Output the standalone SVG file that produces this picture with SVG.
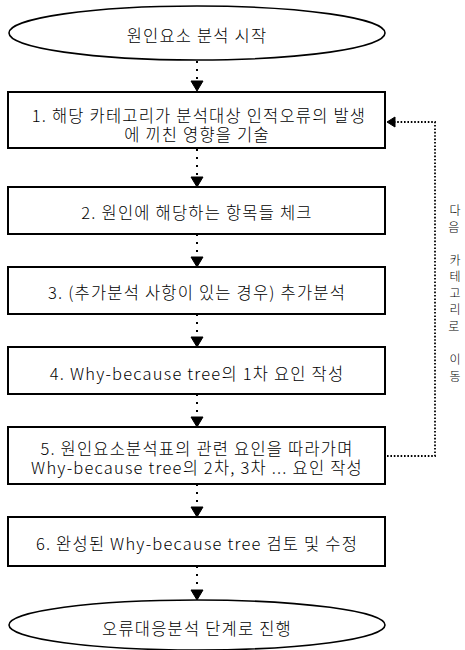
<svg xmlns="http://www.w3.org/2000/svg" width="465" height="650" viewBox="0 0 465 650">
<style>
  .box { fill: #fff; stroke: #000; stroke-width: 2; }
  .term { fill: #fff; stroke: #000; stroke-width: 1.6; }
  .lbl { font-family: "Noto Sans CJK KR", "Noto Sans", sans-serif; font-size: 16.5px; font-weight: 300; letter-spacing: 1.2px; fill: #000; text-anchor: middle; dominant-baseline: central; }
  .side { font-family: "Noto Sans CJK KR", "Noto Sans", sans-serif; font-size: 12px; font-weight: 300; fill: #000; text-anchor: middle; dominant-baseline: central; }
  .flow { fill: none; stroke: #000; stroke-width: 2; stroke-dasharray: 2 6; }
  .back { fill: none; stroke: #000; stroke-width: 1.8; stroke-dasharray: 1.6 1.8; }
  .head { fill: #000; stroke: #000; stroke-width: 1; }
</style>

<g id="start">
  <ellipse class="term" cx="197" cy="33" rx="188" ry="27"/>
  <text class="lbl" x="197" y="35">원인요소 분석 시작</text>
</g>

<g id="step1">
  <rect class="box" x="8" y="92" width="377" height="56"/>
  <text class="lbl"><tspan x="199" y="115">1. 해당 카테고리가 분석대상 인적오류의 발생</tspan><tspan x="197" y="134">에 끼친 영향을 기술</tspan></text>
</g>

<g id="step2">
  <rect class="box" x="8" y="187" width="377" height="47"/>
  <text class="lbl" x="197" y="212">2. 원인에 해당하는 항목들 체크</text>
</g>

<g id="step3">
  <rect class="box" x="8" y="267" width="377" height="47"/>
  <text class="lbl" x="197" y="292">3. (추가분석 사항이 있는 경우) 추가분석</text>
</g>

<g id="step4">
  <rect class="box" x="8" y="347" width="377" height="47"/>
  <text class="lbl" x="197" y="373">4. Why-because tree의 1차 요인 작성</text>
</g>

<g id="step5">
  <rect class="box" x="8" y="427" width="377" height="57"/>
  <text class="lbl"><tspan x="197" y="448">5. 원인요소분석표의 관련 요인을 따라가며</tspan><tspan x="197" y="467">Why-because tree의 2차, 3차 ... 요인 작성</tspan></text>
</g>

<g id="step6">
  <rect class="box" x="8" y="517" width="377" height="49"/>
  <text class="lbl" x="197" y="543">6. 완성된 Why-because tree 검토 및 수정</text>
</g>

<g id="end">
  <ellipse class="term" cx="197" cy="625" rx="188" ry="25"/>
  <text class="lbl" x="197" y="628">오류대응분석 단계로 진행</text>
</g>

<g id="side-label">
  <text class="side"><tspan x="455" y="209">다</tspan><tspan x="455" y="226">음</tspan> <tspan x="455" y="259">카</tspan><tspan x="455" y="275">테</tspan><tspan x="455" y="292">고</tspan><tspan x="455" y="308">리</tspan><tspan x="455" y="325">로</tspan> <tspan x="455" y="358">이</tspan><tspan x="455" y="375">동</tspan></text>
</g>

<g id="connectors">
  <path class="flow" d="M197,61 V81"/>
  <path class="head" d="M191,81 H203 L197,91 Z"/>
  <path class="flow" d="M197,149 V177"/>
  <path class="head" d="M191,177 H203 L197,187 Z"/>
  <path class="flow" d="M197,234 V257"/>
  <path class="head" d="M191,257 H203 L197,267 Z"/>
  <path class="flow" d="M197,314 V337"/>
  <path class="head" d="M191,337 H203 L197,347 Z"/>
  <path class="flow" d="M197,394 V417"/>
  <path class="head" d="M191,417 H203 L197,427 Z"/>
  <path class="flow" d="M197,484 V507"/>
  <path class="head" d="M191,507 H203 L197,517 Z"/>
  <path class="flow" d="M197,566 V590"/>
  <path class="head" d="M191,590 H203 L197,600 Z"/>
  <path class="back" d="M387,456 H435 V122 H393"/>
  <path class="head" d="M395,117 V127 L387,122 Z"/>
</g>
</svg>
